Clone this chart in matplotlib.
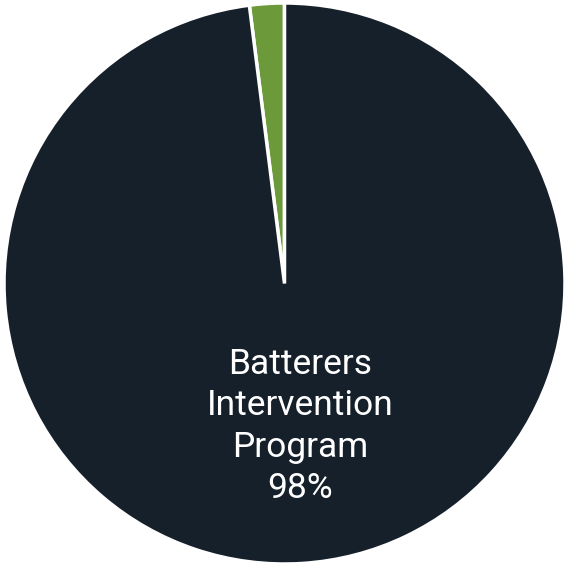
import matplotlib
matplotlib.use("Agg")
import matplotlib.pyplot as plt

labels = ["Other", "Batterers\nIntervention\nProgram"]
values = [2, 98]
colors = ["#6c9a3a", "#16202a"]

fig = plt.figure(figsize=(5.64, 5.63), dpi=100)
ax = fig.add_axes([0, 0, 1, 1])
W, H = 564, 563
cx, cy, r = 284.5, 283.5, 280.5
ax.set_aspect("equal")
ax.axis("off")

wedges, _ = ax.pie(values, colors=colors, startangle=90, counterclock=True,
                   radius=1, wedgeprops=dict(edgecolor="white", linewidth=2.5))
ax.set_xlim(-cx / r, (W - cx) / r)
ax.set_ylim(-(H - cy) / r, cy / r)

ax.text(0.057, -0.51, f"{labels[1]}\n{values[1]}%", ha="center", va="center",
        color="white", fontsize=25.5, family=["Roboto", "DejaVu Sans"],
        linespacing=1.32)

fig.savefig("out.png", dpi=100)
